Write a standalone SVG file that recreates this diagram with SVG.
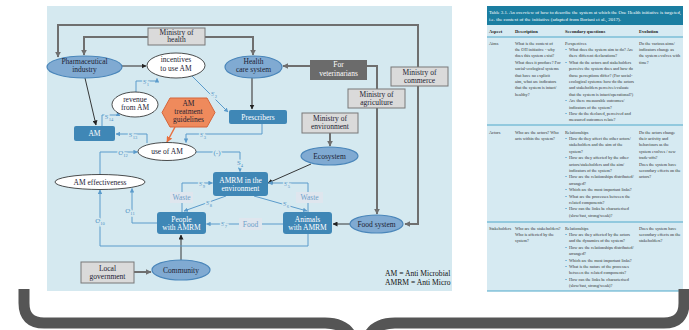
<svg xmlns="http://www.w3.org/2000/svg" width="689" height="330" viewBox="0 0 689 330">
<style>
.t{font-family:"Liberation Serif",serif;font-size:7.5px;text-anchor:middle;fill:#1c2233}
.tw{fill:#fff}
.ell{fill:#80aad2;stroke:#4a86ba;stroke-width:1.2}
.wel{fill:#fff;stroke:#222;stroke-width:0.8}
.box{fill:#3f87b6}
.gbox{fill:#dadada;stroke:#787878;stroke-width:1}
.soft{fill:#dfe6ee}
.softt{fill:#6f9fc9}
.thick{stroke:#6f6f6f;stroke-width:2;fill:none}
.mid{stroke:#555;stroke-width:1.3;fill:none}
.dark{stroke:#222;stroke-width:0.9;fill:none}
.sl{stroke:#5b9bcb;stroke-width:1;fill:none}
.lbl{font-family:"Liberation Serif",serif;font-size:7px;text-anchor:middle;fill:#4a8fc4;stroke:#d5e9f0;stroke-width:3;paint-order:stroke}
.tb{font-family:"Liberation Serif",serif;font-size:4.3px;fill:#333}
.th{font-family:"Liberation Serif",serif;font-size:4.6px;fill:#222;font-weight:bold}
.bu{font-family:"Liberation Serif",serif;font-size:5px;fill:#2b8cbf}
.rule{stroke:#4fa8ca;stroke-width:1.2}
</style>
<defs>
<marker id="ag" viewBox="0 0 10 10" refX="9" refY="5" markerWidth="6" markerHeight="6" markerUnits="userSpaceOnUse" orient="auto"><path d="M0,0 L10,5 L0,10 z" fill="#6f6f6f"/></marker>
<marker id="ad" viewBox="0 0 10 10" refX="9" refY="5" markerWidth="5" markerHeight="5" markerUnits="userSpaceOnUse" orient="auto"><path d="M0,0 L10,5 L0,10 z" fill="#222"/></marker>
<marker id="ab" viewBox="0 0 10 10" refX="9" refY="5" markerWidth="4.5" markerHeight="4.5" markerUnits="userSpaceOnUse" orient="auto"><path d="M0,0 L10,5 L0,10 z" fill="#5b9bcb"/></marker>
<marker id="ao" viewBox="0 0 10 10" refX="9" refY="5" markerWidth="6" markerHeight="6" markerUnits="userSpaceOnUse" orient="auto"><path d="M0,0 L10,5 L0,10 z" fill="#e8703f"/></marker>
<clipPath id="legclip"><rect x="47" y="6" width="405" height="285"/></clipPath>
</defs>

<rect class="bg" x="47" y="6" width="405" height="285" fill="#d5e9f0"/>

<g id="connectors">
<path class="thick" d="M418,67 V25 H58 V57" marker-end="url(#ag)"/>
<path class="thick" d="M418,86 V224 H405" marker-end="url(#ag)"/>
<path class="thick" d="M148,37 H84 V55" marker-end="url(#ag)"/>
<path class="thick" d="M205,37 H253 V55" marker-end="url(#ag)"/>
<path class="thick" d="M310,66 H283" marker-end="url(#ag)"/>
<path class="thick" d="M377,89 V66 H367"/>
<path class="thick" d="M377,108 V214" marker-end="url(#ag)"/>
<path class="thick" d="M330,133 V146" marker-end="url(#ag)"/>
<path class="thick" d="M134,272 H151" marker-end="url(#ag)"/>
<path class="mid" d="M252,78 V109" marker-end="url(#ad)"/>
<path class="mid" d="M122,66 H146" marker-end="url(#ad)"/>
<path class="dark" d="M85,78 L96,125" marker-end="url(#ad)"/>
<path class="dark" d="M311,164 L268,183" marker-end="url(#ad)"/>
<path class="dark" d="M350,224 H333" marker-end="url(#ad)"/>
<path class="dark" d="M181,260 V235" marker-end="url(#ad)"/>
<path d="M175,127 L167,142" stroke="#e8703f" stroke-width="1.5" fill="none" marker-end="url(#ao)"/>
<path class="sl" d="M136,92 V81 H157 V78.5" marker-end="url(#ab)"/>
<path class="sl" d="M192,76 L228,112" marker-end="url(#ab)"/>
<path class="sl" d="M102,126 V115 H118 V112" marker-end="url(#ab)"/>
<path class="sl" d="M147,143 V134 H116" marker-end="url(#ab)"/>
<path class="sl" d="M262,124 V134 H186 V142.5" marker-end="url(#ab)"/>
<path class="sl" d="M100,174.5 V152 H137.5" marker-end="url(#ab)"/>
<path class="sl" d="M196,152 H240 V171.5" marker-end="url(#ab)"/>
<path class="sl" d="M157,223 H132 V188.5" marker-end="url(#ab)"/>
<path class="sl" d="M308,234 V246 H100 V190" marker-end="url(#ab)"/>
<path class="sl" d="M182,192 V183 H212.5" marker-end="url(#ab)"/>
<path class="sl" d="M308,192 V183 H268.5" marker-end="url(#ab)"/>
<path class="sl" d="M226,196 L184,211" marker-end="url(#ab)"/>
<path class="sl" d="M254,196 L307,211" marker-end="url(#ab)"/>
<path class="sl" d="M182,203 V212"/>
<path class="sl" d="M308,203 V212"/>
<path class="sl" d="M283,224 H262"/>
<path class="sl" d="M239,224 H206.5" marker-end="url(#ab)"/>
<text class="lbl" x="146" y="84">S<tspan font-size="4.5" dy="1.5">1</tspan></text>
<text class="lbl" x="214" y="96">S<tspan font-size="4.5" dy="1.5">2</tspan></text>
<text class="lbl" x="109" y="119">S<tspan font-size="4.5" dy="1.5">14</tspan></text>
<text class="lbl" x="133" y="137">S<tspan font-size="4.5" dy="1.5">13</tspan></text>
<text class="lbl" x="203" y="137">S<tspan font-size="4.5" dy="1.5">3</tspan></text>
<text class="lbl" x="123" y="155">O<tspan font-size="4.5" dy="1.5">12</tspan></text>
<text class="lbl" x="217" y="155">(-)</text>
<text class="lbl" x="240" y="165">S<tspan font-size="4.5" dy="1.5">4</tspan></text>
<text class="lbl" x="202" y="186">S<tspan font-size="4.5" dy="1.5">9</tspan></text>
<text class="lbl" x="209" y="205">S<tspan font-size="4.5" dy="1.5">8</tspan></text>
<text class="lbl" x="287" y="186">S<tspan font-size="4.5" dy="1.5">5</tspan></text>
<text class="lbl" x="286" y="206">S<tspan font-size="4.5" dy="1.5">6</tspan></text>
<text class="lbl" x="224" y="226">S<tspan font-size="4.5" dy="1.5">7</tspan></text>
<text class="lbl" x="130" y="213">O<tspan font-size="4.5" dy="1.5">11</tspan></text>
<text class="lbl" x="100" y="223">O<tspan font-size="4.5" dy="1.5">10</tspan></text>
</g>

<g id="ministry-health"><rect class="gbox" x="148" y="28" width="57" height="17"/><text class="t" x="176.5" y="34.5">Ministry of</text><text class="t" x="176.5" y="42">health</text></g>
<g id="pharma"><ellipse class="ell" cx="84.5" cy="67" rx="37.5" ry="11"/><text class="t" x="84.5" y="64">Pharmaceutical</text><text class="t" x="84.5" y="72">industry</text></g>
<g id="incentives"><ellipse class="wel" cx="176" cy="65.5" rx="29" ry="12.5"/><text class="t" x="176" y="62">incentives</text><text class="t" x="176" y="70.5">to use AM</text></g>
<g id="health-care"><ellipse class="ell" cx="253.5" cy="67" rx="28.5" ry="11"/><text class="t" x="253.5" y="64">Health</text><text class="t" x="253.5" y="72">care system</text></g>
<g id="revenue"><ellipse class="wel" cx="135" cy="104.5" rx="23" ry="12.5"/><text class="t" x="135" y="101.5">revenue</text><text class="t" x="135" y="109.5">from AM</text></g>
<g id="guidelines"><polygon points="162,112.5 170,98 207,98 215,112.5 207,127 170,127" fill="#ef8a5c" stroke="#d5653a" stroke-width="1"/><text class="t" x="188.5" y="105.5">AM</text><text class="t" x="188.5" y="113.5">treatment</text><text class="t" x="188.5" y="121.5">guidelines</text></g>
<g id="prescribers"><rect class="box" x="229" y="110" width="58" height="14" rx="2"/><text class="t tw" x="258" y="119.5">Prescribers</text></g>
<g id="am"><rect class="box" x="74" y="126" width="41" height="15" rx="2"/><text class="t tw" x="94.5" y="136">AM</text></g>
<g id="use-of-am"><ellipse class="wel" cx="167" cy="151.5" rx="29" ry="9"/><text class="t" x="167" y="154">use of AM</text></g>
<g id="am-effectiveness"><ellipse class="wel" cx="100" cy="182" rx="45" ry="7.5"/><text class="t" x="100" y="184.5">AM effectiveness</text></g>
<g id="amrm-env"><rect class="box" x="213" y="172" width="55" height="24" rx="3"/><text class="t tw" x="240.5" y="182.5">AMRM in the</text><text class="t tw" x="240.5" y="191">environment</text></g>
<g id="waste-left"><rect class="soft" x="170" y="192" width="23" height="11"/><text class="t softt" x="181.5" y="200">Waste</text></g>
<g id="waste-right"><rect class="soft" x="296" y="192" width="27" height="11"/><text class="t softt" x="309.5" y="200">Waste</text></g>
<g id="people"><rect class="box" x="157" y="212" width="49" height="22" rx="3"/><text class="t tw" x="181.5" y="221.5">People</text><text class="t tw" x="181.5" y="229.5">with AMRM</text></g>
<g id="animals"><rect class="box" x="283" y="212" width="49" height="22" rx="3"/><text class="t tw" x="307.5" y="221.5">Animals</text><text class="t tw" x="307.5" y="229.5">with AMRM</text></g>
<g id="food"><rect class="soft" x="239" y="218" width="23" height="12"/><text class="t softt" x="250.5" y="226.5">Food</text></g>
<g id="food-system"><ellipse class="ell" cx="376.5" cy="224" rx="26.5" ry="9"/><text class="t" x="376.5" y="226.5">Food system</text></g>
<g id="ecosystem"><ellipse class="ell" cx="329.5" cy="156" rx="28.5" ry="9"/><text class="t" x="329.5" y="158.5">Ecosystem</text></g>
<g id="ministry-environment"><rect class="gbox" x="302" y="113" width="56" height="20"/><text class="t" x="330" y="120.5">Ministry of</text><text class="t" x="330" y="129">environment</text></g>
<g id="ministry-agriculture"><rect class="gbox" x="348" y="89" width="57" height="19"/><text class="t" x="376.5" y="96.5">Ministry of</text><text class="t" x="376.5" y="105">agriculture</text></g>
<g id="ministry-commerce"><rect class="gbox" x="391" y="67" width="57" height="19"/><text class="t" x="419.5" y="74.5">Ministry of</text><text class="t" x="419.5" y="83">commerce</text></g>
<g id="for-vets"><rect x="310" y="60" width="57" height="20" fill="#6b6b6b"/><text class="t tw" x="338.5" y="67">For</text><text class="t tw" x="338.5" y="75.5">veterinarians</text></g>
<g id="local-gov"><rect class="gbox" x="81" y="262" width="53" height="21"/><text class="t" x="107.5" y="270.5">Local</text><text class="t" x="107.5" y="279">government</text></g>
<g id="community"><ellipse class="ell" cx="181" cy="270" rx="29" ry="10"/><text class="t" x="181" y="272.5">Community</text></g>

<g id="legend" clip-path="url(#legclip)">
<text x="385" y="276" font-family="Liberation Serif, serif" font-size="7.6" fill="#111">AM = Anti Microbial</text>
<text x="385" y="284.5" font-family="Liberation Serif, serif" font-size="7.6" fill="#111">AMRM = Anti Micro</text>
</g>

<g id="table">
<rect x="487" y="6" width="196" height="285" fill="#d6eaf2"/>
<rect x="487" y="6" width="196" height="19" fill="#1b7ea1"/>
<text x="489" y="13.5" font-family="Liberation Serif, serif" font-size="4.6" fill="#fff" textLength="192" lengthAdjust="spacingAndGlyphs">Table 3.1. An overview of how to describe the system at which the One Health initiative is targeted,</text>
<text x="489" y="20.5" font-family="Liberation Serif, serif" font-size="4.6" fill="#fff" textLength="132" lengthAdjust="spacingAndGlyphs">i.e. the context of the initiative (adapted from Boriani et al., 2017).</text>
<text class="th" x="489" y="33">Aspect</text>
<text class="th" x="515" y="33">Description</text>
<text class="th" x="565" y="33">Secondary questions</text>
<text class="th" x="639" y="33">Evolution</text>
<line class="rule" x1="487" y1="37" x2="683" y2="37"/>
<line class="rule" x1="487" y1="125" x2="683" y2="125"/>
<line class="rule" x1="487" y1="222" x2="683" y2="222"/>
<line class="rule" x1="487" y1="291" x2="683" y2="291"/>

<text class="tb" x="489" y="44.5">Aims</text>
<text class="tb" x="515" y="44.5">What is the context of</text>
<text class="tb" x="515" y="50.9">the OH initiative - why</text>
<text class="tb" x="515" y="57.3">does this system exist?</text>
<text class="tb" x="515" y="63.7">What does it produce? For</text>
<text class="tb" x="515" y="70.1">social-ecological systems</text>
<text class="tb" x="515" y="76.5">that have no explicit</text>
<text class="tb" x="515" y="82.9">aim, what are indicators</text>
<text class="tb" x="515" y="89.3">that the system is intact/</text>
<text class="tb" x="515" y="95.7">healthy?</text>
<text class="tb" x="565" y="44.5">Perspectives</text>
<text class="bu" x="565" y="51">•</text><text class="tb" x="569" y="50.9">What does the system aim to do? Are</text>
<text class="tb" x="569" y="57.3">there different declarations?</text>
<text class="bu" x="565" y="63.8">•</text><text class="tb" x="569" y="63.7">What do the actors and stakeholders</text>
<text class="tb" x="569" y="70.1">perceive the system does and how do</text>
<text class="tb" x="569" y="76.5">those perceptions differ? (For social-</text>
<text class="tb" x="569" y="82.9">ecological systems: how do the actors</text>
<text class="tb" x="569" y="89.3">and stakeholders perceive/evaluate</text>
<text class="tb" x="569" y="95.7">that the system is intact/operational?)</text>
<text class="bu" x="565" y="102.2">•</text><text class="tb" x="569" y="102.1">Are there measurable outcomes/</text>
<text class="tb" x="569" y="108.5">indicators of the system?</text>
<text class="bu" x="565" y="115">•</text><text class="tb" x="569" y="114.9">How do the declared, perceived and</text>
<text class="tb" x="569" y="121.3">measured outcomes relate?</text>
<text class="tb" x="639" y="44.5">Do the various aims/</text>
<text class="tb" x="639" y="50.9">indicators change as</text>
<text class="tb" x="639" y="57.3">the system evolves with</text>
<text class="tb" x="639" y="63.7">time?</text>

<text class="tb" x="489" y="133.5">Actors</text>
<text class="tb" x="515" y="133.5">Who are the actors? Who</text>
<text class="tb" x="515" y="139.9">acts within the system?</text>
<text class="tb" x="565" y="133.5">Relationships</text>
<text class="bu" x="565" y="140">•</text><text class="tb" x="569" y="139.9">How do they affect the other actors/</text>
<text class="tb" x="569" y="146.3">stakeholders and the aim of the</text>
<text class="tb" x="569" y="152.7">system?</text>
<text class="bu" x="565" y="159.2">•</text><text class="tb" x="569" y="159.1">How are they affected by the other</text>
<text class="tb" x="569" y="165.5">actors/stakeholders and the aim/</text>
<text class="tb" x="569" y="171.9">indicators of the system?</text>
<text class="bu" x="565" y="178.4">•</text><text class="tb" x="569" y="178.3">How are the relationships distributed/</text>
<text class="tb" x="569" y="184.7">arranged?</text>
<text class="bu" x="565" y="191.2">•</text><text class="tb" x="569" y="191.1">Which are the most important links?</text>
<text class="bu" x="565" y="197.6">•</text><text class="tb" x="569" y="197.5">What are the processes between the</text>
<text class="tb" x="569" y="203.9">related components?</text>
<text class="bu" x="565" y="210.4">•</text><text class="tb" x="569" y="210.3">How can the links be characterised</text>
<text class="tb" x="569" y="216.7">(slow/fast, strong/weak)?</text>
<text class="tb" x="639" y="133.5">Do the actors change</text>
<text class="tb" x="639" y="139.9">their activity and</text>
<text class="tb" x="639" y="146.3">behaviours as the</text>
<text class="tb" x="639" y="152.7">system evolves / new</text>
<text class="tb" x="639" y="159.1">trade-offs?</text>
<text class="tb" x="639" y="165.5">Does the system have</text>
<text class="tb" x="639" y="171.9">secondary effects on the</text>
<text class="tb" x="639" y="178.3">actors?</text>

<text class="tb" x="489" y="229.5">Stakeholders</text>
<text class="tb" x="515" y="229.5">Who are the stakeholders?</text>
<text class="tb" x="515" y="235.9">Who is affected by the</text>
<text class="tb" x="515" y="242.3">system?</text>
<text class="tb" x="565" y="229.5">Relationships</text>
<text class="bu" x="565" y="236">•</text><text class="tb" x="569" y="235.9">How are they affected by the actors</text>
<text class="tb" x="569" y="242.3">and the dynamics of the system?</text>
<text class="bu" x="565" y="248.8">•</text><text class="tb" x="569" y="248.7">How are the relationships distributed/</text>
<text class="tb" x="569" y="255.1">arranged?</text>
<text class="bu" x="565" y="261.6">•</text><text class="tb" x="569" y="261.5">Which are the most important links?</text>
<text class="bu" x="565" y="268">•</text><text class="tb" x="569" y="267.9">What is the nature of the processes</text>
<text class="tb" x="569" y="274.3">between the related components?</text>
<text class="bu" x="565" y="280.8">•</text><text class="tb" x="569" y="280.7">How can the links be characterised</text>
<text class="tb" x="569" y="287.1">(slow/fast, strong/weak)?</text>
<text class="tb" x="639" y="229.5">Does the system have</text>
<text class="tb" x="639" y="235.9">secondary effects on the</text>
<text class="tb" x="639" y="242.3">stakeholders?</text>
</g>

<path id="brace" d="M24,289 V303 Q24,323 44,323 H325 Q347,323 353,340 M367,340 Q373,323 395,323 H664 Q684,323 684,303 V289" fill="none" stroke="#555" stroke-width="11"/>
</svg>
